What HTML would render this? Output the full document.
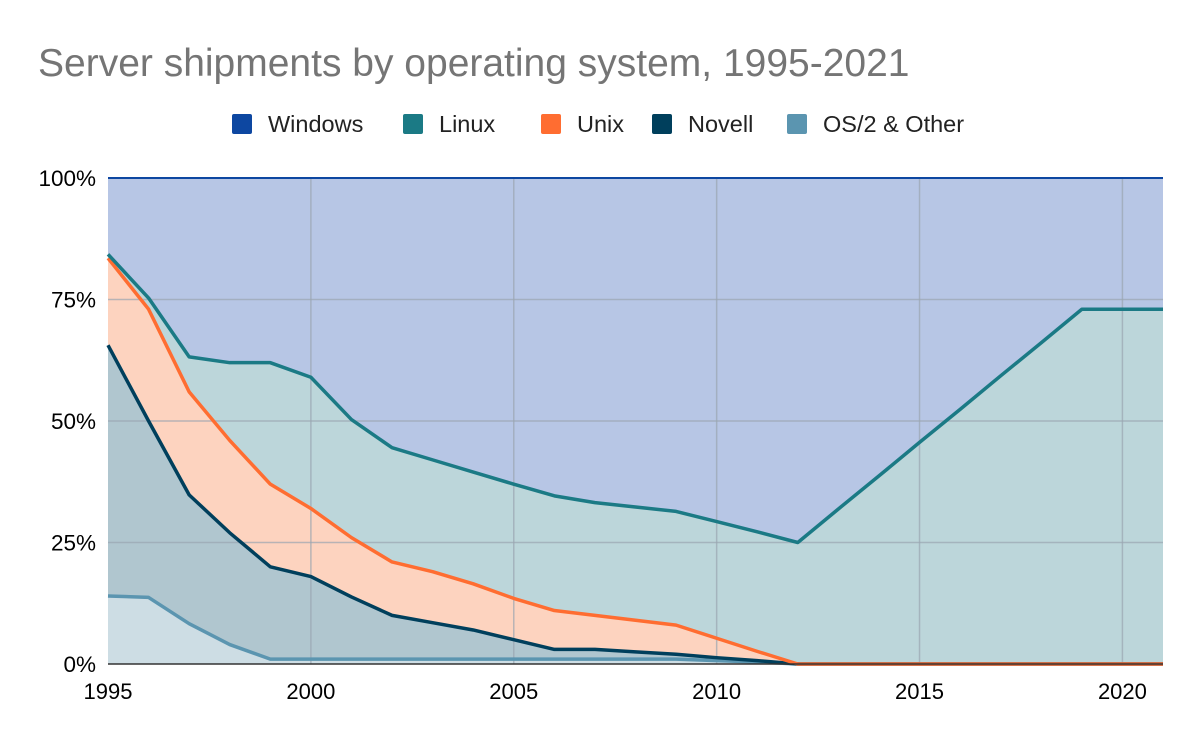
<!DOCTYPE html>
<html><head><meta charset="utf-8"><style>
body{margin:0;background:#fff;font-family:"Liberation Sans",Arial,sans-serif;}
</style></head><body>
<svg id="chart" width="1200" height="742" xmlns="http://www.w3.org/2000/svg">
<rect width="1200" height="742" fill="#fff"/>
<text x="38" y="76" font-size="39" fill="#757575" font-family="Liberation Sans, Arial, sans-serif">Server shipments by operating system, 1995-2021</text>
<g id="legend"></g>
<g id="areas"></g><g id="grid"></g><g id="lines"></g><g id="axes"></g>
</svg>
<script>
const years=[1995,1996,1997,1998,1999,2000,2001,2002,2003,2004,2005,2006,2007,2008,2009,2010,2011,2012,2013,2014,2015,2016,2017,2018,2019,2020,2021];
const otherShare=[14,13.7,8.3,4,1,1,1,1,1,1,1,1,1,1,1,0.7,0.4,0,0,0,0,0,0,0,0,0,0];
const novellShare=[51.6,36.3,26.5,23,19,17,12.8,9,7.5,6,4,2,2,1.5,1,0.6,0.3,0,0,0,0,0,0,0,0,0,0];
const unixShare=[17.9,23,21.2,19,17,14,12.2,11,10.5,9.5,8.5,8,7,6.5,6,4,1.9,0,0,0,0,0,0,0,0,0,0];
const linuxShare=[0.8,2.3,7.2,16,25,27,24.3,23.5,23,23,23.5,23.6,23.2,23.3,23.4,24,24.6,25,31.9,38.7,45.6,52.4,59.3,66.1,73,73,73];
const windowsShare=[15.7,24.7,36.8,38,38,41,49.7,55.5,58,60.5,63,65.4,66.8,67.7,68.6,70.7,72.8,75,68.1,61.3,54.4,47.6,40.7,33.9,27,27,27];
const yTicks=[0,25,50,75,100];
const xTicks=[1995,2000,2005,2010,2015,2020];
const NS="http://www.w3.org/2000/svg";
const L=108,R=1163,T=178,B=664;
const xs=y=>L+(y-1995)/(2021-1995)*(R-L);
const ys=v=>B-v/100*(B-T);
function mk(tag,attrs,parent){const e=document.createElementNS(NS,tag);for(const k in attrs)e.setAttribute(k,attrs[k]);parent.appendChild(e);return e;}
const series=[
 {name:"OS/2 & Other",key:"other",d:otherShare,line:"#5b95b0",fill:"#cddde4"},
 {name:"Novell",key:"novell",d:novellShare,line:"#003f5c",fill:"#b0c6cf"},
 {name:"Unix",key:"unix",d:unixShare,line:"#ff6d31",fill:"#fdd3bf"},
 {name:"Linux",key:"linux",d:linuxShare,line:"#1b7a85",fill:"#bcd6da"},
 {name:"Windows",key:"windows",d:windowsShare,line:"#0d47a1",fill:"#b7c6e5"}];
const totals=years.map((_,i)=>series.reduce((s,se)=>s+se.d[i],0));
let base=years.map(()=>0);
const areas=document.getElementById('areas'),lines=document.getElementById('lines'),grid=document.getElementById('grid'),axes=document.getElementById('axes');
series.forEach(se=>{
 const top=base.map((b,i)=>b+se.d[i]/totals[i]*100);
 const up=years.map((y,i)=>xs(y)+","+ys(top[i]));
 const down=years.map((y,i)=>xs(y)+","+ys(base[i])).reverse();
 const a=mk('polygon',{points:up.concat(down).join(' '),fill:se.fill},areas);
 
 
 const l=mk('polyline',{points:up.join(' '),fill:'none',stroke:se.line,'stroke-width':se.key==='windows'?2:3.5,'stroke-linejoin':'round'},lines);
 
 
 base=top;
});
yTicks.forEach(v=>{
 if(v>0){const g=mk('line',{x1:L,x2:R,y1:ys(v),y2:ys(v),stroke:'#9aa5b1','stroke-width':1.5,'stroke-opacity':0.7},grid);
 
 }
 const t=mk('text',{x:L-12,y:ys(v)+8,'text-anchor':'end','font-size':22.5,fill:'#000'},axes);
 t.textContent=v+'%';
 
 
});
xTicks.forEach(y=>{
 if(y>1995){const g=mk('line',{x1:xs(y),x2:xs(y),y1:T,y2:B,stroke:'#9aa5b1','stroke-width':1.5,'stroke-opacity':0.7},grid);
 
 }
 const t=mk('text',{x:xs(y),y:B+35,'text-anchor':'middle','font-size':22,fill:'#000'},axes);
 t.textContent=y;
 
 
});
const ax=mk('line',{x1:L,x2:R,y1:B,y2:B,stroke:'#333','stroke-width':1.5},axes);


const leg=document.getElementById('legend');
const legItems=[["Windows","#0d47a1",232],["Linux","#1b7a85",403],["Unix","#ff6d31",541],["Novell","#003f5c",652],["OS/2 & Other","#5b95b0",787]];
legItems.forEach(it=>{
 const r=mk('rect',{x:it[2],y:114,width:20,height:20,rx:2,fill:it[1]},leg);
 
 
 const t=mk('text',{x:it[2]+36,y:132,'font-size':23.5,fill:'#222'},leg);
 t.textContent=it[0];
 
 
});
</script>
</body></html>
